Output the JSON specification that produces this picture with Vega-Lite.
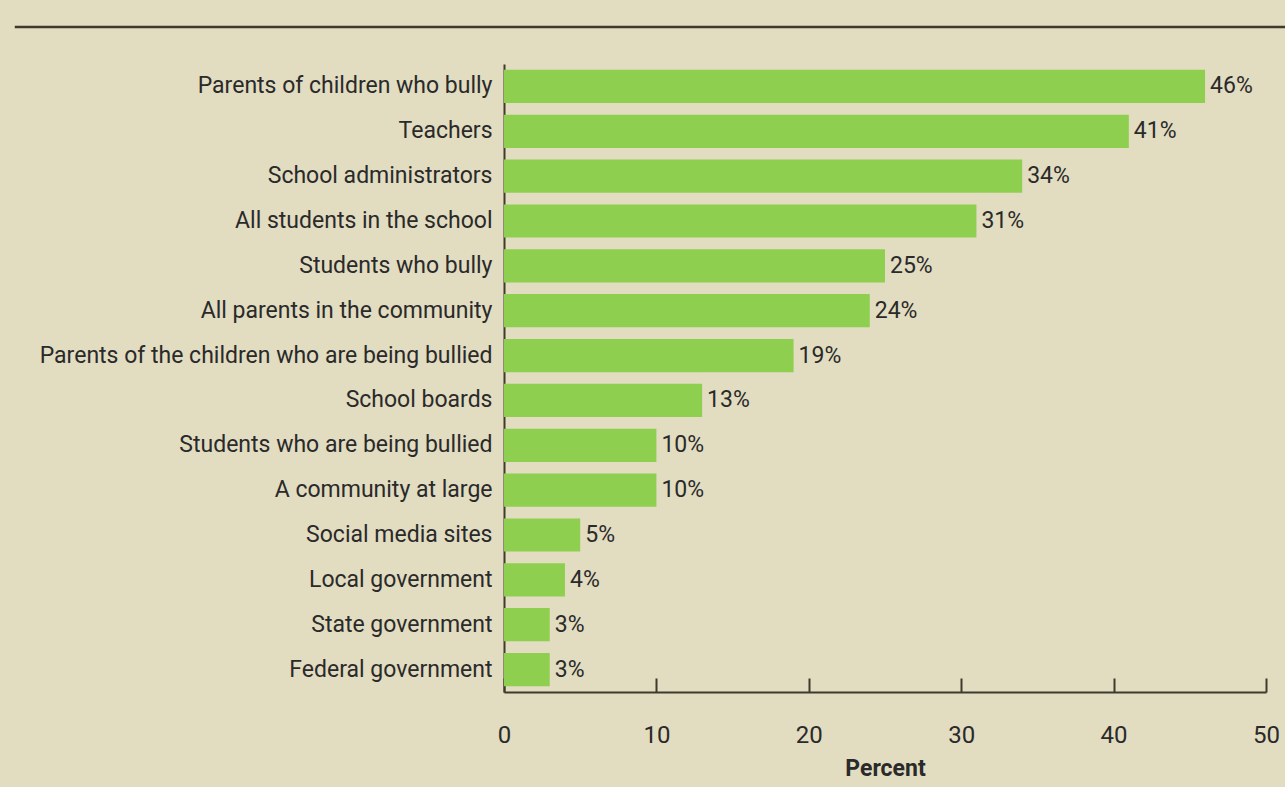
{
  "$schema": "https://vega.github.io/schema/vega-lite/v6.json",
  "autosize": {"type": "none"},
  "width": 762,
  "height": 628,
  "padding": {"left": 504, "top": 64, "right": 19, "bottom": 95},
  "background": "#e2dcc1",
  "config": {
    "view": {"stroke": null},
    "font": "Roboto"
  },
  "data": {
    "values": [
      {"group": "Parents of children who bully", "pct": 46, "label": "46%"},
      {"group": "Teachers", "pct": 41, "label": "41%"},
      {"group": "School administrators", "pct": 34, "label": "34%"},
      {"group": "All students in the school", "pct": 31, "label": "31%"},
      {"group": "Students who bully", "pct": 25, "label": "25%"},
      {"group": "All parents in the community", "pct": 24, "label": "24%"},
      {"group": "Parents of the children who are being bullied", "pct": 19, "label": "19%"},
      {"group": "School boards", "pct": 13, "label": "13%"},
      {"group": "Students who are being bullied", "pct": 10, "label": "10%"},
      {"group": "A community at large", "pct": 10, "label": "10%"},
      {"group": "Social media sites", "pct": 5, "label": "5%"},
      {"group": "Local government", "pct": 4, "label": "4%"},
      {"group": "State government", "pct": 3, "label": "3%"},
      {"group": "Federal government", "pct": 3, "label": "3%"}
    ]
  },
  "layer": [
    {
      "mark": {"type": "bar", "color": "#8fcf50"},
      "encoding": {
        "y": {
          "field": "group",
          "type": "nominal",
          "sort": null,
          "scale": {"paddingInner": 0.26, "paddingOuter": 0.13},
          "axis": {
            "title": null,
            "ticks": false,
            "labelPadding": 12,
            "labelFontSize": 23,
            "labelColor": "#2a2a2a",
            "labelLimit": 600,
            "domainColor": "#3f3b2a",
            "domainWidth": 2
          }
        },
        "x": {
          "field": "pct",
          "type": "quantitative",
          "scale": {"domain": [0, 50]},
          "axis": {
            "values": [0, 10, 20, 30, 40, 50],
            "grid": false,
            "title": "Percent",
            "titleFontSize": 23,
            "titleFontWeight": "bold",
            "titleColor": "#2a2a2a",
            "titlePadding": 10,
            "tickSize": -14,
            "tickWidth": 2,
            "tickColor": "#3f3b2a",
            "domainColor": "#3f3b2a",
            "domainWidth": 2,
            "labelPadding": 45,
            "labelFlush": false,
            "labelFontSize": 24,
            "labelColor": "#2a2a2a"
          }
        }
      }
    },
    {
      "mark": {"type": "text", "align": "left", "baseline": "middle", "dx": 5, "fontSize": 23, "color": "#2a2a2a"},
      "encoding": {
        "y": {"field": "group", "type": "nominal", "sort": null},
        "x": {"field": "pct", "type": "quantitative"},
        "text": {"field": "label", "type": "nominal"}
      }
    },
    {
      "data": {"values": [{"from": -32.1, "to": 51.25}]},
      "mark": {"type": "rule", "color": "#3f3b2a", "strokeWidth": 2.5, "y": -37},
      "encoding": {
        "x": {"field": "from", "type": "quantitative"},
        "x2": {"field": "to"}
      }
    }
  ]
}
